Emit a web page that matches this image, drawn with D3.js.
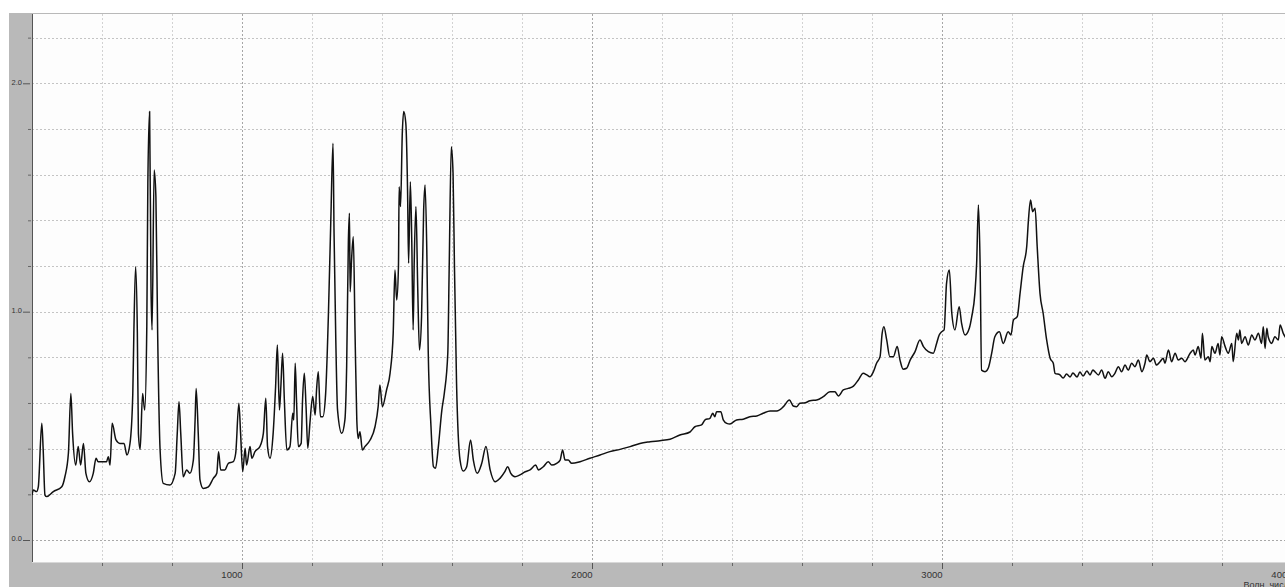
<!DOCTYPE html>
<html>
<head>
<meta charset="utf-8">
<script src="https://cdn.jsdelivr.net/npm/d3@7/dist/d3.min.js"></script>
<style>
  html, body { margin: 0; padding: 0; background: #ffffff; overflow: hidden; }
  svg { display: block; }
  text { font-family: "Liberation Sans", Arial, sans-serif; }
</style>
</head>
<body>
<svg id="chart" width="1285" height="587"></svg>
<script>
// Spectrum: wavenumber (cm-1) and intensity
const wavenumbers = [
  400, 404, 413, 418, 428, 432, 437, 442, 461, 485, 494, 504, 511, 516, 525, 532, 539, 547, 554, 564,
  575, 583, 589, 613, 618, 623, 629, 640, 651, 663, 671, 680, 688, 691, 696, 701, 704, 709, 716, 722,
  728, 731, 736, 740, 743, 749, 754, 759, 766, 775, 794, 809, 815, 820, 825, 832, 842, 851, 861, 866,
  869, 875, 880, 889, 904, 918, 928, 933, 939, 951, 961, 975, 982, 991, 996, 1002, 1009, 1013, 1023, 1028,
  1037, 1051, 1061, 1068, 1073, 1080, 1089, 1096, 1101, 1107, 1111, 1116, 1121, 1128, 1137, 1145, 1148, 1152, 1156, 1161,
  1169, 1173, 1178, 1183, 1188, 1194, 1202, 1209, 1213, 1218, 1224, 1231, 1239, 1247, 1254, 1260, 1263, 1268, 1273, 1285,
  1294, 1299, 1304, 1307, 1309, 1313, 1318, 1323, 1328, 1332, 1337, 1344, 1351, 1366, 1380, 1389, 1394, 1401, 1413, 1423,
  1432, 1437, 1442, 1447, 1449, 1453, 1458, 1462, 1468, 1473, 1476, 1481, 1485, 1489, 1492, 1497, 1502, 1507, 1513, 1519,
  1523, 1528, 1532, 1540, 1547, 1553, 1561, 1571, 1578, 1588, 1592, 1598, 1603, 1607, 1613, 1623, 1632, 1642, 1653, 1661,
  1672, 1685, 1697, 1709, 1723, 1737, 1751, 1759, 1768, 1780, 1794, 1809, 1823, 1839, 1847, 1861, 1875, 1885, 1899, 1909,
  1916, 1923, 1932, 1942, 1966, 1994, 2023, 2051, 2080, 2109, 2137, 2166, 2194, 2223, 2251, 2280, 2294, 2313, 2323, 2337,
  2345, 2351, 2356, 2368, 2375, 2385, 2394, 2413, 2432, 2451, 2471, 2489, 2509, 2528, 2547, 2564, 2575, 2585, 2594, 2609,
  2623, 2642, 2661, 2680, 2694, 2704, 2718, 2732, 2747, 2761, 2775, 2785, 2794, 2804, 2813, 2823, 2829, 2834, 2842, 2851,
  2861, 2872, 2880, 2889, 2899, 2909, 2923, 2937, 2947, 2961, 2975, 2985, 2992, 2999, 3006, 3013, 3021, 3028, 3037, 3049,
  3056, 3066, 3078, 3085, 3094, 3099, 3104, 3109, 3113, 3123, 3132, 3142, 3151, 3164, 3175, 3189, 3197, 3204, 3215, 3223,
  3232, 3242, 3247, 3253, 3259, 3266, 3272, 3280, 3289, 3299, 3309, 3318, 3323, 3337, 3346, 3356, 3366, 3374, 3386, 3394,
  3403, 3414, 3423, 3431, 3437, 3447, 3456, 3466, 3475, 3485, 3494, 3504, 3513, 3523, 3532, 3542, 3551, 3561, 3571, 3580,
  3585, 3594, 3604, 3613, 3623, 3632, 3637, 3647, 3656, 3666, 3675, 3685, 3694, 3709, 3718, 3723, 3732, 3740, 3744, 3751,
  3761, 3766, 3771, 3780, 3789, 3794, 3799, 3809, 3818, 3828, 3832, 3842, 3847, 3851, 3856, 3866, 3875, 3885, 3894, 3904,
  3913, 3918, 3923, 3928, 3932, 3942, 3951, 3961, 3966, 3975, 3985
];
const intensity = [
  0.197, 0.219, 0.212, 0.233, 0.511, 0.394, 0.197, 0.190, 0.212, 0.233, 0.277, 0.380, 0.642, 0.467, 0.328, 0.409, 0.328, 0.423, 0.292, 0.255,
  0.292, 0.358, 0.343, 0.343, 0.365, 0.328, 0.511, 0.438, 0.423, 0.423, 0.372, 0.423, 0.642, 0.905, 1.197, 0.905, 0.467, 0.397, 0.642, 0.569,
  0.934, 1.562, 1.876, 1.109, 0.920, 1.620, 1.503, 0.905, 0.394, 0.248, 0.241, 0.292, 0.467, 0.606, 0.467, 0.277, 0.307, 0.292, 0.350, 0.526,
  0.664, 0.467, 0.263, 0.226, 0.233, 0.270, 0.292, 0.387, 0.307, 0.307, 0.336, 0.343, 0.380, 0.599, 0.467, 0.299, 0.402, 0.328, 0.409, 0.358,
  0.387, 0.409, 0.467, 0.621, 0.409, 0.358, 0.467, 0.671, 0.854, 0.569, 0.671, 0.818, 0.613, 0.394, 0.409, 0.555, 0.526, 0.774, 0.599, 0.409,
  0.423, 0.613, 0.730, 0.584, 0.402, 0.511, 0.628, 0.547, 0.657, 0.737, 0.540, 0.540, 0.642, 0.993, 1.416, 1.737, 1.343, 0.876, 0.569, 0.467,
  0.526, 0.759, 1.314, 1.431, 1.087, 1.226, 1.328, 0.905, 0.526, 0.445, 0.474, 0.394, 0.409, 0.438, 0.496, 0.584, 0.679, 0.584, 0.657, 0.730,
  0.905, 1.182, 1.051, 1.197, 1.547, 1.460, 1.781, 1.876, 1.825, 1.533, 1.212, 1.569, 1.314, 0.920, 1.212, 1.460, 1.109, 0.832, 0.978, 1.445,
  1.555, 1.270, 0.832, 0.496, 0.321, 0.314, 0.409, 0.569, 0.642, 0.818, 1.197, 1.722, 1.606, 1.197, 0.686, 0.350, 0.302, 0.321, 0.438, 0.350,
  0.292, 0.336, 0.409, 0.307, 0.255, 0.270, 0.299, 0.321, 0.292, 0.277, 0.285, 0.299, 0.307, 0.328, 0.307, 0.321, 0.343, 0.328, 0.336, 0.350,
  0.394, 0.350, 0.350, 0.336, 0.343, 0.358, 0.372, 0.387, 0.397, 0.409, 0.423, 0.430, 0.435, 0.441, 0.460, 0.473, 0.496, 0.504, 0.526, 0.533,
  0.555, 0.540, 0.562, 0.562, 0.526, 0.511, 0.508, 0.526, 0.529, 0.540, 0.543, 0.555, 0.565, 0.565, 0.584, 0.613, 0.587, 0.584, 0.599, 0.601,
  0.610, 0.613, 0.628, 0.649, 0.649, 0.631, 0.657, 0.664, 0.674, 0.701, 0.730, 0.723, 0.715, 0.737, 0.774, 0.803, 0.905, 0.934, 0.876, 0.803,
  0.803, 0.847, 0.788, 0.748, 0.752, 0.788, 0.825, 0.876, 0.847, 0.825, 0.818, 0.863, 0.898, 0.912, 0.920, 1.124, 1.182, 0.993, 0.920, 1.022,
  0.949, 0.898, 0.927, 0.978, 1.080, 1.212, 1.467, 1.197, 0.744, 0.737, 0.752, 0.818, 0.890, 0.912, 0.861, 0.912, 0.898, 0.963, 0.978, 1.080,
  1.197, 1.284, 1.401, 1.489, 1.438, 1.453, 1.284, 1.080, 0.993, 0.876, 0.796, 0.774, 0.730, 0.723, 0.709, 0.727, 0.714, 0.731, 0.714, 0.736,
  0.718, 0.740, 0.723, 0.744, 0.737, 0.723, 0.744, 0.708, 0.737, 0.715, 0.730, 0.759, 0.737, 0.766, 0.744, 0.774, 0.759, 0.788, 0.737, 0.774,
  0.810, 0.781, 0.796, 0.766, 0.781, 0.796, 0.774, 0.832, 0.781, 0.818, 0.788, 0.796, 0.781, 0.818, 0.832, 0.810, 0.847, 0.796, 0.905, 0.788,
  0.803, 0.781, 0.847, 0.818, 0.861, 0.810, 0.890, 0.847, 0.818, 0.861, 0.781, 0.905, 0.876, 0.920, 0.861, 0.890, 0.854, 0.898, 0.876, 0.905,
  0.861, 0.934, 0.839, 0.927, 0.890, 0.861, 0.890, 0.876, 0.942, 0.905, 0.880
];

// Axis ticks
const xMajorTicks = [1000, 2000, 3000, 4000];
const xMinorTicks = [600, 800, 1200, 1400, 1600, 1800, 2200, 2400, 2600, 2800, 3200, 3400, 3600, 3800];
const yMajorTicks = [0.0, 1.0, 2.0];
const yMinorTicks = [0.2, 0.4, 0.6, 0.8, 1.2, 1.4, 1.6, 1.8, 2.2];
const xAxisTitle = "Волн. число";

const svg = d3.select("#chart");

// frame geometry
const panel = { left: 9, top: 13 };
const plot = { left: 32, top: 14, right: 1292, bottom: 562 };

const x = d3.scaleLinear().domain([400, 4000]).range([plot.left, plot.right]);
const y = d3.scaleLinear().domain([-0.0963, 2.3035]).range([plot.bottom, plot.top]);

// grey instrument panel
svg.append("rect")
  .attr("x", panel.left).attr("y", panel.top)
  .attr("width", 1285 - panel.left).attr("height", 587 - panel.top)
  .attr("fill", "#b9b9b9");

// plotting area
svg.append("rect")
  .attr("x", plot.left).attr("y", plot.top)
  .attr("width", plot.right - plot.left).attr("height", plot.bottom - plot.top)
  .attr("fill", "#fdfdfd");

const defs = svg.append("defs");
defs.append("clipPath").attr("id", "plotClip")
  .append("rect")
  .attr("x", plot.left).attr("y", plot.top)
  .attr("width", plot.right - plot.left).attr("height", plot.bottom - plot.top);

// grid
const grid = svg.append("g").attr("shape-rendering", "crispEdges");
const allY = yMajorTicks.concat(yMinorTicks);
grid.selectAll("line.hgrid").data(allY).enter().append("line")
  .attr("class", "hgrid")
  .attr("x1", plot.left).attr("x2", plot.right)
  .attr("y1", d => Math.round(y(d)) + 0.5).attr("y2", d => Math.round(y(d)) + 0.5)
  .attr("stroke", d => d === 0 ? "#a8a8a8" : "#c4c4c4")
  .attr("stroke-dasharray", "2,2");

grid.selectAll("line.vminor").data(xMinorTicks).enter().append("line")
  .attr("class", "vminor")
  .attr("x1", d => Math.round(x(d)) + 0.5).attr("x2", d => Math.round(x(d)) + 0.5)
  .attr("y1", plot.top).attr("y2", plot.bottom)
  .attr("stroke", "#d2d2d2")
  .attr("stroke-dasharray", "2,2");

grid.selectAll("line.vmajor").data(xMajorTicks).enter().append("line")
  .attr("class", "vmajor")
  .attr("x1", d => Math.round(x(d)) + 0.5).attr("x2", d => Math.round(x(d)) + 0.5)
  .attr("y1", plot.top).attr("y2", plot.bottom)
  .attr("stroke", "#a6a6a6")
  .attr("stroke-dasharray", "2,2");

// axis lines
svg.append("line")
  .attr("x1", plot.left + 0.5).attr("x2", plot.left + 0.5)
  .attr("y1", plot.top).attr("y2", plot.bottom)
  .attr("stroke", "#555").attr("stroke-width", 1);
svg.append("line")
  .attr("x1", plot.left).attr("x2", plot.right)
  .attr("y1", plot.bottom + 0.5).attr("y2", plot.bottom + 0.5)
  .attr("stroke", "#d8d8d8").attr("stroke-width", 1);

// x axis (ticks below the plot, labels right-aligned to tick)
const xAxisMajor = d3.axisBottom(x).tickValues(xMajorTicks).tickSize(6).tickFormat(d3.format("d"));
const gxMaj = svg.append("g").attr("transform", `translate(0,${plot.bottom + 1})`).call(xAxisMajor);
gxMaj.select(".domain").remove();
gxMaj.selectAll(".tick line").attr("stroke", "#555");
gxMaj.selectAll(".tick text")
  .attr("text-anchor", "end")
  .attr("x", 0).attr("y", 0).attr("dy", null)
  .attr("transform", "translate(0,15)")
  .attr("font-size", "9.5px").attr("fill", "#333");

const xAxisMinor = d3.axisBottom(x).tickValues(xMinorTicks).tickSize(3).tickFormat("");
const gxMin = svg.append("g").attr("transform", `translate(0,${plot.bottom + 1})`).call(xAxisMinor);
gxMin.select(".domain").remove();
gxMin.selectAll(".tick line").attr("stroke", "#666");

svg.append("text")
  .attr("x", x(4000) + 2).attr("y", 587.5)
  .attr("text-anchor", "end")
  .attr("font-size", "9px").attr("fill", "#333")
  .text(xAxisTitle);

// y axis: labels sit on the gridline, underscore-style tick to the right
const yAxisMajor = d3.axisLeft(y).tickValues(yMajorTicks).tickSize(7).tickFormat(d3.format(".1f"));
const gyMaj = svg.append("g").attr("transform", `translate(${plot.left - 2},0)`).call(yAxisMajor);
gyMaj.select(".domain").remove();
gyMaj.selectAll(".tick line").attr("stroke", "#555");
gyMaj.selectAll(".tick text")
  .attr("x", -8).attr("dy", "0.9px")
  .attr("text-anchor", "end")
  .attr("font-size", "7.5px").attr("fill", "#333")
  .attr("dominant-baseline", "auto");

const yAxisMinor = d3.axisLeft(y).tickValues(yMinorTicks).tickSize(3).tickFormat("");
const gyMin = svg.append("g").attr("transform", `translate(${plot.left - 1},0)`).call(yAxisMinor);
gyMin.select(".domain").remove();
gyMin.selectAll(".tick line").attr("stroke", "#666");

// spectrum trace
const points = wavenumbers.map((w, i) => [w, intensity[i]]);
const line = d3.line().x(d => x(d[0])).y(d => y(d[1])).curve(d3.curveMonotoneX);
svg.append("path")
  .datum(points)
  .attr("clip-path", "url(#plotClip)")
  .attr("fill", "none")
  .attr("stroke", "#111")
  .attr("stroke-width", 1.5)
  .attr("stroke-linejoin", "round")
  .attr("d", line);
</script>
</body>
</html>
